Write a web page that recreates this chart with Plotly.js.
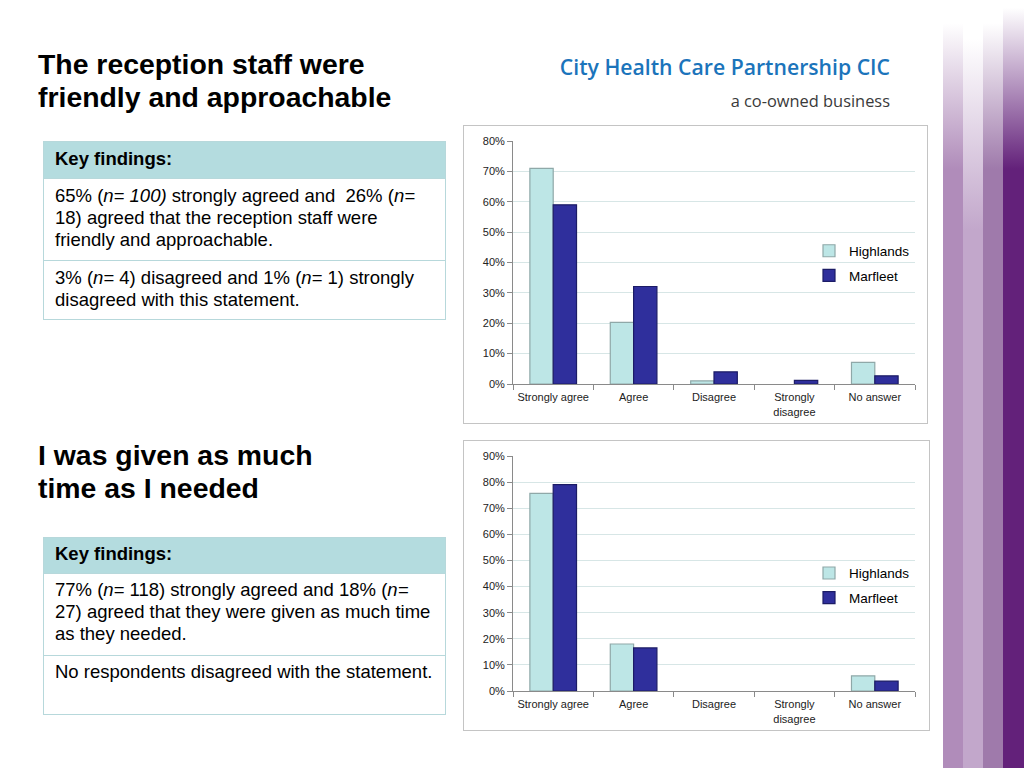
<!DOCTYPE html>
<html>
<head>
<meta charset="utf-8">
<script src="https://cdn.plot.ly/plotly-3.0.1.min.js"></script>
<style>
  html, body { margin:0; padding:0; background:#ffffff; }
  body { width:1024px; height:768px; position:relative; overflow:hidden; font-family:"Liberation Sans", Arial, sans-serif; }
  .tl { position:absolute; left:38px; font-weight:bold; font-size:28.4px; line-height:33px; color:#000; white-space:nowrap; }
  .logo1 { position:absolute; right:134px; top:53px; font-family:"Open Sans", sans-serif; font-weight:600; font-size:21.2px; line-height:28px; color:#1b74bb; white-space:nowrap; }
  .logo2 { position:absolute; right:134px; top:90px; font-family:"Open Sans", sans-serif; font-weight:400; font-size:16.4px; line-height:22px; color:#3a3a3a; white-space:nowrap; }
  .box { position:absolute; left:43px; width:403px; border:1px solid #b7d8db; box-sizing:border-box; }
  .hd { background:#b4dcdf; }
  .ln { position:absolute; left:55px; font-size:18.5px; line-height:22px; color:#000; white-space:nowrap; }
  .b { font-weight:bold; }
  .frame { position:absolute; border:1px solid #c4c4c4; background:#fff; }
  .stripe { position:absolute; top:0; height:768px; }
</style>
</head>
<body>
<div class="stripe" style="left:943px;width:20px;background:linear-gradient(to bottom,#ffffff 3%,#b08cba 22%);"></div>
<div class="stripe" style="left:963px;width:20px;background:linear-gradient(to bottom,#ffffff 5%,#c2a7cb 30%);"></div>
<div class="stripe" style="left:983px;width:20px;background:linear-gradient(to bottom,#ffffff 3%,#9f7aab 22%);"></div>
<div class="stripe" style="left:1003px;width:21px;background:linear-gradient(to bottom,#ffffff 1%,#63217a 22%);"></div>

<div class="tl" style="top:48px;">The reception staff were</div>
<div class="tl" style="top:81px;">friendly and approachable</div>
<div class="logo1">City Health Care Partnership CIC</div>
<div class="logo2">a co-owned business</div>

<!-- Table 1 -->
<div class="box hd" style="top:141px;height:38px;"></div>
<div class="box" style="top:178px;height:83px;"></div>
<div class="box" style="top:260px;height:60px;"></div>
<div class="ln b" style="top:148px;">Key findings:</div>
<div class="ln" style="top:185px;"><span>65% (</span><i>n= 100)</i><span> strongly agreed and&nbsp; 26% (</span><i>n=</i></div>
<div class="ln" style="top:207px;">18) agreed that the reception staff were</div>
<div class="ln" style="top:229px;">friendly and approachable.</div>
<div class="ln" style="top:267px;"><span>3% (</span><i>n=</i><span> 4) disagreed and 1% (</span><i>n=</i><span> 1) strongly</span></div>
<div class="ln" style="top:289px;">disagreed with this statement.</div>

<div class="tl" style="top:439px;">I was given as much</div>
<div class="tl" style="top:472px;">time as I needed</div>

<!-- Table 2 -->
<div class="box hd" style="top:537px;height:37px;"></div>
<div class="box" style="top:573px;height:83px;"></div>
<div class="box" style="top:655px;height:60px;"></div>
<div class="ln b" style="top:543px;">Key findings:</div>
<div class="ln" style="top:579px;"><span>77% (</span><i>n=</i><span> 118) strongly agreed and 18% (</span><i>n=</i></div>
<div class="ln" style="top:601px;">27) agreed that they were given as much time</div>
<div class="ln" style="top:623px;">as they needed.</div>
<div class="ln" style="top:661px;">No respondents disagreed with the statement.</div>

<div class="frame" style="left:463px;top:125px;width:463px;height:297px;"><div id="c1" style="width:463px;height:297px;"></div></div>
<div class="frame" style="left:463px;top:440px;width:465px;height:289px;"><div id="c2" style="width:465px;height:289px;"></div></div>

<script>
const categories = ["Strongly agree", "Agree", "Disagree", "Strongly<br>disagree", "No answer"];
const seriesNames = ["Highlands", "Marfleet"];
// Chart 1: The reception staff were friendly and approachable (%)
const reception_highlands = [71, 20.3, 1, 0, 7.1];
const reception_marfleet  = [59, 32.1, 4, 1.2, 2.7];
// Chart 2: I was given as much time as I needed (%)
const time_highlands = [75.7, 18, 0, 0, 5.8];
const time_marfleet  = [79, 16.5, 0, 0, 3.8];
const yTickVals1 = [0,10,20,30,40,50,60,70,80];
const yTickVals2 = [0,10,20,30,40,50,60,70,80,90];

const colH = "#bde6e6", lineH = "#8fa8a8";
const colM = "#2f2f9c", lineM = "#1c1c66";

function nz(arr) { return arr.map(v => v === 0 ? null : v); }

function traces(h, m) {
  return [
    {type:"bar", name:seriesNames[0], x:categories, y:nz(h), legendgroup:"a",
     marker:{color:colH, line:{color:lineH, width:1.2}}},
    {type:"bar", name:seriesNames[1], x:categories, y:nz(m), legendgroup:"b",
     marker:{color:colM, line:{color:lineM, width:1.2}}}
  ];
}

function layout(ymax, ticks, mar, legy) {
  return {
    width: mar.w, height: mar.h,
    margin:{l:mar.l, r:mar.r, t:mar.t, b:mar.b},
    paper_bgcolor:"#ffffff", plot_bgcolor:"#ffffff",
    barmode:"group", bargap:0.42, bargroupgap:0,
    font:{family:"Liberation Sans, Arial, sans-serif", size:11, color:"#222"},
    showlegend:true,
    legend:{x:1.0, xanchor:"right", y:legy, yanchor:"middle", traceorder:"grouped", tracegroupgap:4,
            font:{size:13.5, color:"#000"}, bgcolor:"rgba(0,0,0,0)"},
    xaxis:{type:"category", showgrid:false, showline:true, linecolor:"#8a8a8a", linewidth:1,
           ticks:"outside", tickson:"boundaries", ticklen:5, tickcolor:"#8a8a8a", tickangle:0,
           ticklabelstandoff:3, tickfont:{size:11, color:"#222"}, fixedrange:true, automargin:false},
    yaxis:{range:[0, ymax], tickvals:ticks, ticktext:ticks.map(v => v + "%"),
           showgrid:true, gridcolor:"#d7e6e6", gridwidth:1, zeroline:false,
           showline:true, linecolor:"#8a8a8a", linewidth:1, ticks:"outside", ticklen:5, tickcolor:"#8a8a8a",
           tickfont:{size:11, color:"#222"}, fixedrange:true, automargin:false}
  };
}

Plotly.newPlot("c1", traces(reception_highlands, reception_marfleet),
  layout(80, yTickVals1, {w:463, h:297, l:49, r:12, t:15, b:39}, 0.496), {staticPlot:true});
Plotly.newPlot("c2", traces(time_highlands, time_marfleet),
  layout(90, yTickVals2, {w:465, h:289, l:49, r:14, t:15, b:39}, 0.448), {staticPlot:true});
</script>
</body>
</html>
